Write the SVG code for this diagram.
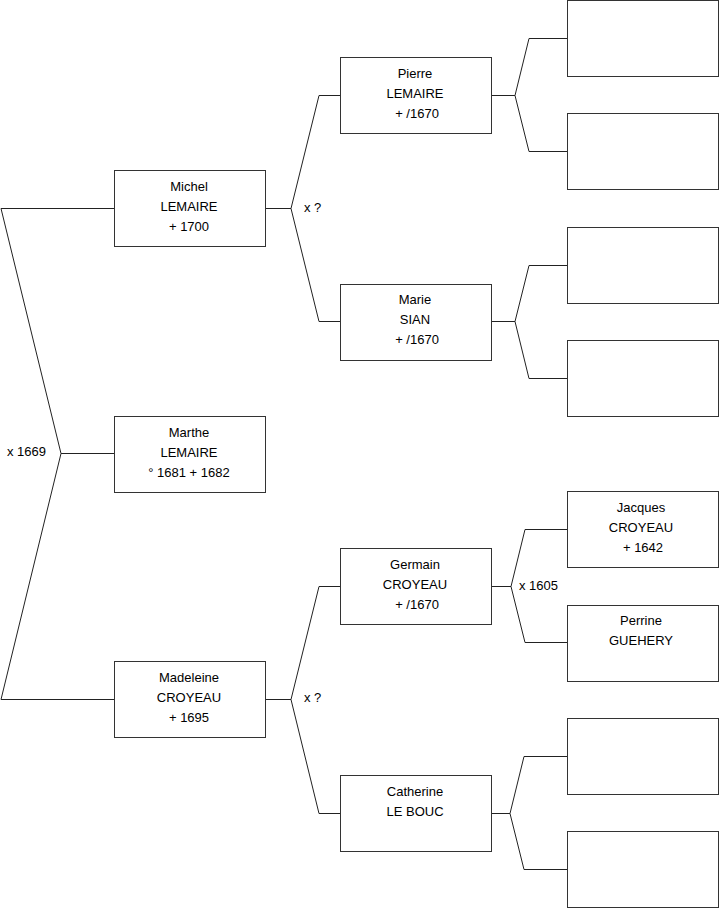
<svg xmlns="http://www.w3.org/2000/svg" width="719" height="908" viewBox="0 0 719 908">
<style>
.box{fill:#fff;stroke:#333;stroke-width:1}
.ln{fill:none;stroke:#222;stroke-width:1}
text{font-family:"Liberation Sans",Arial,sans-serif;font-size:13px;fill:#000}
.c{text-anchor:middle}
</style>
<rect width="719" height="908" fill="#fff"/>
<g id="connectors">
<polyline class="ln" points="114,208.5 1,208.5 61,453.5 1,699.5 114,699.5"/>
<line class="ln" x1="61" y1="453.5" x2="114" y2="453.5"/>
<polyline class="ln" points="340,95.5 319,95.5 291,208.5 319,321.5 340,321.5"/>
<line class="ln" x1="265" y1="208.5" x2="291" y2="208.5"/>
<polyline class="ln" points="340,586.5 319,586.5 291,699.5 319,813.5 340,813.5"/>
<line class="ln" x1="265" y1="699.5" x2="291" y2="699.5"/>
<polyline class="ln" points="567,38.5 529,38.5 515,95.5 529,151.5 567,151.5"/>
<line class="ln" x1="491" y1="95.5" x2="515" y2="95.5"/>
<polyline class="ln" points="567,265.5 529,265.5 515,321.5 529,378.5 567,378.5"/>
<line class="ln" x1="491" y1="321.5" x2="515" y2="321.5"/>
<polyline class="ln" points="567,529.5 525,529.5 511,586.5 525,642.5 567,642.5"/>
<line class="ln" x1="491" y1="586.5" x2="511" y2="586.5"/>
<polyline class="ln" points="567,756.5 524,756.5 510,813.5 524,869.5 567,869.5"/>
<line class="ln" x1="491" y1="813.5" x2="510" y2="813.5"/>
<text x="7" y="456">x 1669</text>
<text x="304" y="212">x ?</text>
<text x="304" y="702">x ?</text>
<text x="519" y="590">x 1605</text>
</g>
<g id="michel"><rect class="box" x="114.5" y="170.5" width="151" height="76"/>
<text class="c" x="189" y="191">Michel</text><text class="c" x="189" y="211">LEMAIRE</text><text class="c" x="189" y="231">+ 1700</text></g>
<g id="marthe"><rect class="box" x="114.5" y="416.5" width="151" height="76"/>
<text class="c" x="189" y="437">Marthe</text><text class="c" x="189" y="457">LEMAIRE</text><text class="c" x="189" y="477">° 1681 + 1682</text></g>
<g id="madeleine"><rect class="box" x="114.5" y="661.5" width="151" height="76"/>
<text class="c" x="189" y="682">Madeleine</text><text class="c" x="189" y="702">CROYEAU</text><text class="c" x="189" y="722">+ 1695</text></g>
<g id="pierre"><rect class="box" x="340.5" y="57.5" width="151" height="76"/>
<text class="c" x="415" y="78">Pierre</text><text class="c" x="415" y="98">LEMAIRE</text><text class="c" x="417" y="118">+ /1670</text></g>
<g id="marie"><rect class="box" x="340.5" y="284.5" width="151" height="76"/>
<text class="c" x="415" y="304">Marie</text><text class="c" x="415" y="324">SIAN</text><text class="c" x="417" y="344">+ /1670</text></g>
<g id="germain"><rect class="box" x="340.5" y="548.5" width="151" height="76"/>
<text class="c" x="415" y="569">Germain</text><text class="c" x="415" y="589">CROYEAU</text><text class="c" x="417" y="609">+ /1670</text></g>
<g id="catherine"><rect class="box" x="340.5" y="775.5" width="151" height="76"/>
<text class="c" x="415" y="796">Catherine</text><text class="c" x="415" y="816">LE BOUC</text></g>
<g id="r1"><rect class="box" x="567.5" y="0.5" width="151" height="76"/></g>
<g id="r2"><rect class="box" x="567.5" y="113.5" width="151" height="76"/></g>
<g id="r3"><rect class="box" x="567.5" y="227.5" width="151" height="76"/></g>
<g id="r4"><rect class="box" x="567.5" y="340.5" width="151" height="76"/></g>
<g id="jacques"><rect class="box" x="567.5" y="491.5" width="151" height="76"/>
<text class="c" x="641" y="512">Jacques</text><text class="c" x="641" y="532">CROYEAU</text><text class="c" x="643" y="552">+ 1642</text></g>
<g id="perrine"><rect class="box" x="567.5" y="605.5" width="151" height="76"/>
<text class="c" x="641" y="625">Perrine</text><text class="c" x="641" y="645">GUEHERY</text></g>
<g id="r7"><rect class="box" x="567.5" y="718.5" width="151" height="76"/></g>
<g id="r8"><rect class="box" x="567.5" y="831.5" width="151" height="76"/></g>
</svg>
